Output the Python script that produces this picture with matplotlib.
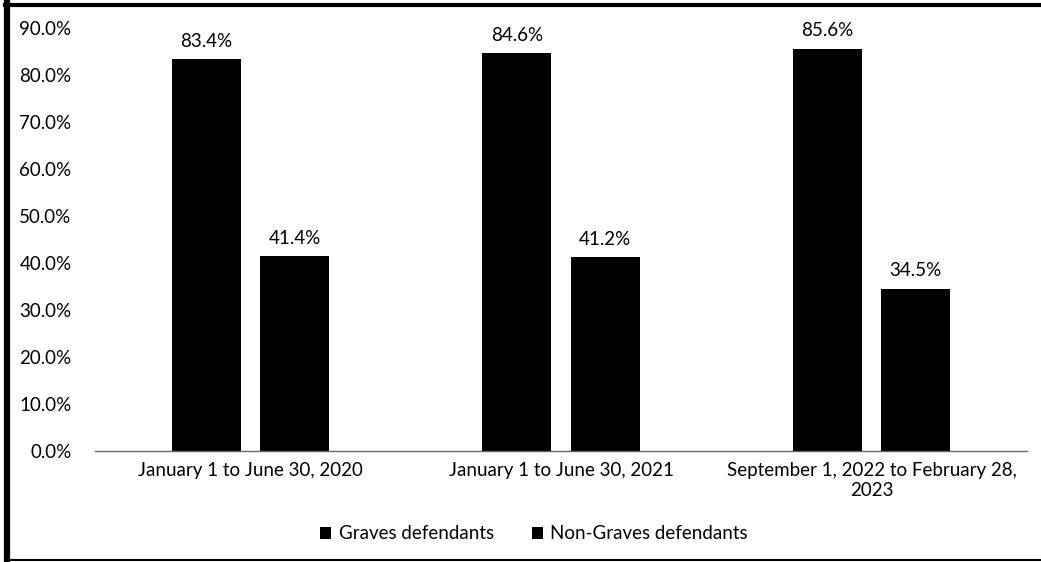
import matplotlib
matplotlib.use("Agg")
import matplotlib.pyplot as plt
from matplotlib.lines import Line2D
import numpy as np

plt.rcParams["font.family"] = ["Lato", "DejaVu Sans"]

periods = ["January 1 to June 30, 2020",
           "January 1 to June 30, 2021",
           "September 1, 2022 to February 28,\n2023"]
graves = [83.4, 84.6, 85.6]
non_graves = [41.4, 41.2, 34.5]
series_names = ["Graves defendants", "Non-Graves defendants"]
y_ticks = [0, 10, 20, 30, 40, 50, 60, 70, 80, 90]

FS = 13.5

fig = plt.figure(figsize=(10.41, 5.62), dpi=100)
ax = fig.add_axes([0.0913, 0.1975, 0.8953, 0.7525])

x = np.arange(len(periods))
width = 0.222
offset = 0.142
b1 = ax.bar(x - offset, graves, width, color="black", label=series_names[0])
b2 = ax.bar(x + offset, non_graves, width, color="black", label=series_names[1])

for bars, vals in ((b1, graves), (b2, non_graves)):
    for rect, v in zip(bars, vals):
        ax.text(rect.get_x() + rect.get_width() / 2, v + 2.0, "%.1f%%" % v,
                ha="center", va="bottom", fontsize=FS)

ax.set_xlim(-0.5, 2.5)
ax.set_ylim(0, 90)
ax.set_yticks(y_ticks)
ax.set_yticklabels(["%.1f%%" % t for t in y_ticks], fontsize=FS)
ax.set_xticks(x)
ax.set_xticklabels(periods, fontsize=FS, linespacing=1.2)
ax.tick_params(length=0)
ax.tick_params(axis="x", pad=8)
ax.tick_params(axis="y", pad=17)
for side in ("top", "right", "left"):
    ax.spines[side].set_visible(False)
ax.spines["bottom"].set_color("#666666")
ax.spines["bottom"].set_linewidth(1.0)

fig.legend(loc="center", bbox_to_anchor=(0.513, 0.05), ncol=2, frameon=False,
           fontsize=FS, handlelength=0.6, handleheight=0.6,
           handletextpad=0.4, columnspacing=2.0)

# frame around the figure: heavy left and top, thin bottom
fig.add_artist(Line2D([0.0072, 0.0072], [0.0, 0.995], transform=fig.transFigure,
                      color="black", linewidth=4.5))
fig.add_artist(Line2D([0.005, 1.0], [0.991, 0.991], transform=fig.transFigure,
                      color="black", linewidth=3.0))
fig.add_artist(Line2D([0.005, 1.0], [0.004, 0.004], transform=fig.transFigure,
                      color="black", linewidth=1.5))

fig.savefig("out.png", dpi=100)
